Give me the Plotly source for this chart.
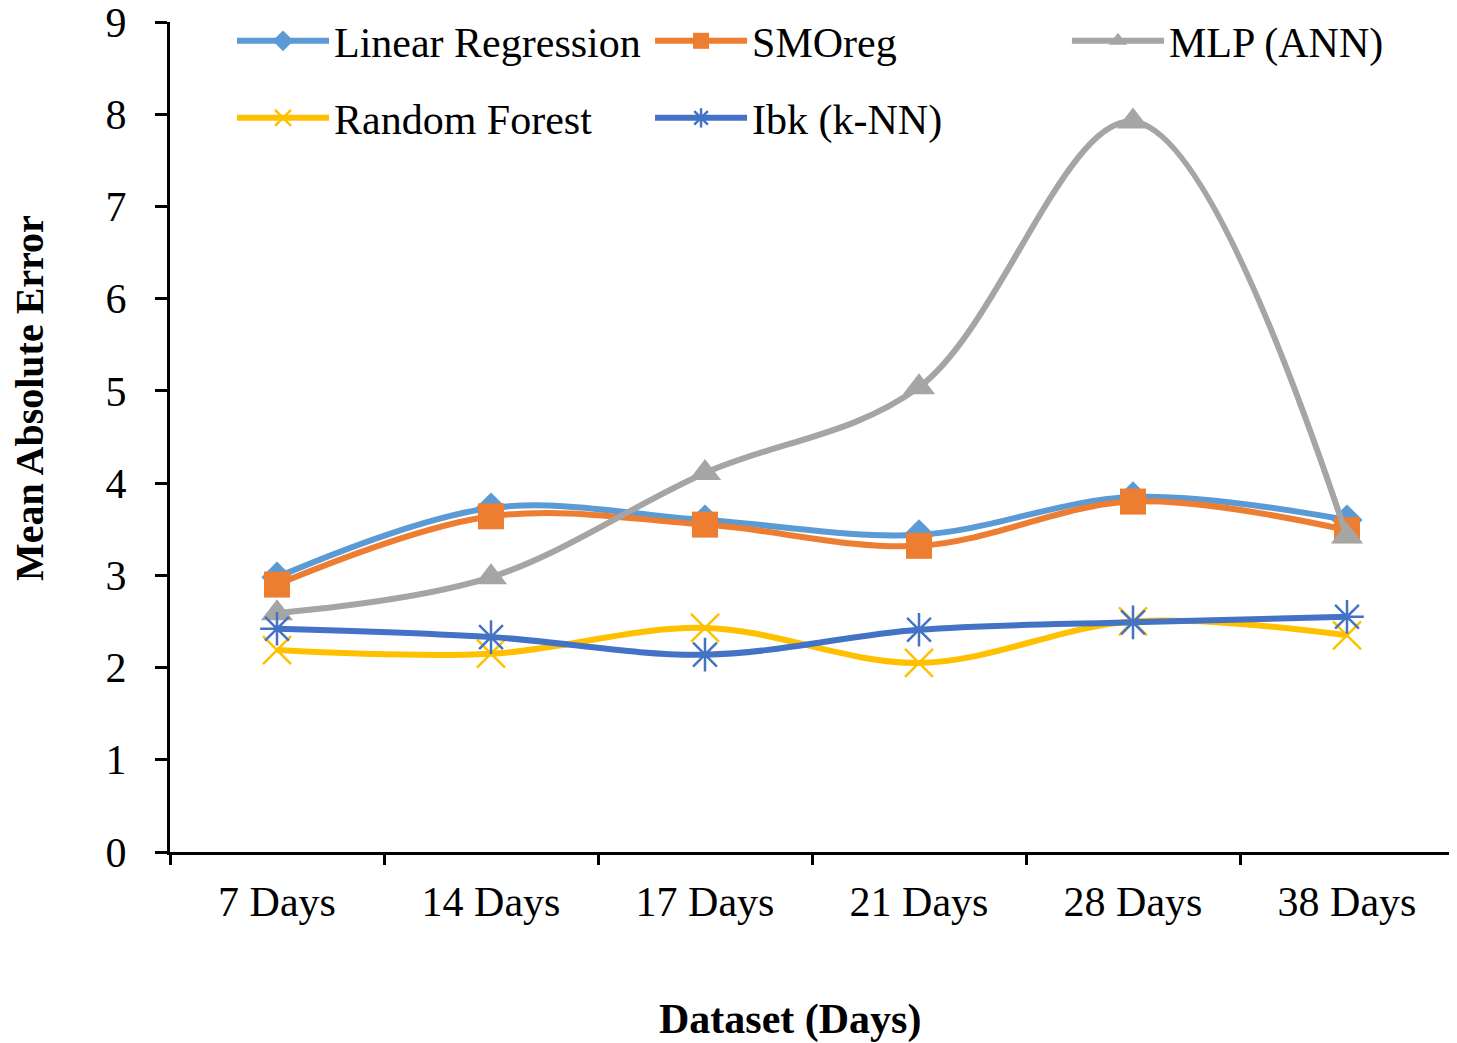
import plotly.graph_objects as go

categories = ["7 Days", "14 Days", "17 Days", "21 Days", "28 Days", "38 Days"]
linear_regression = [2.98, 3.73, 3.60, 3.44, 3.85, 3.60]
smoreg = [2.90, 3.64, 3.55, 3.32, 3.80, 3.49]
mlp_ann = [2.59, 2.98, 4.11, 5.04, 7.92, 3.42]
random_forest = [2.19, 2.15, 2.43, 2.05, 2.50, 2.35]
ibk_knn = [2.42, 2.33, 2.14, 2.41, 2.49, 2.55]
y_ticks = [0, 1, 2, 3, 4, 5, 6, 7, 8, 9]

# name, values, colour, symbol, size, marker line width, legend id, legend pos (container)
series = [
    ("Linear Regression", linear_regression, "#5B9BD5", "diamond", 24, 0, "legend", (0.1546, 0.9681)),
    ("SMOreg", smoreg, "#ED7D31", "square", 26, 0, "legend2", (0.4431, 0.9681)),
    ("MLP (ANN)", mlp_ann, "#A5A5A5", "triangle-up", 28, 0, "legend3", (0.7308, 0.9681)),
    ("Random Forest", random_forest, "#FFC000", "x-thin-open", 28, 2.5, "legend4", (0.1546, 0.8937)),
    ("Ibk (k-NN)", ibk_knn, "#4472C4", "asterisk-open", 28, 2.5, "legend5", (0.4431, 0.8937)),
]

font_family = "Liberation Serif"
fig = go.Figure()
legend_layouts = {}
for name, vals, color, sym, size, lw, lg, pos in series:
    fig.add_trace(go.Scatter(
        x=categories, y=vals, name=name, mode="lines+markers", legend=lg,
        line=dict(color=color, width=6, shape="spline", smoothing=1.0),
        marker=dict(symbol=sym, size=size, color=color,
                    line=dict(color=color, width=lw)),
    ))
    legend_layouts[lg] = dict(
        x=pos[0], y=pos[1], xref="container", yref="container",
        xanchor="left", yanchor="middle",
        orientation="h", itemwidth=92, bgcolor="rgba(0,0,0,0)",
        font=dict(size=42, family=font_family, color="black"),
    )

fig.update_layout(
    width=1449, height=1035,
    margin=dict(l=162, r=3, t=14, b=191, autoexpand=False),
    paper_bgcolor="white", plot_bgcolor="white",
    font=dict(family=font_family, size=42, color="black"),
    showlegend=True,
    xaxis=dict(type="category", range=[-0.5, 5.5], tickson="boundaries",
               showline=True, linecolor="black", linewidth=3,
               ticks="outside", ticklen=10, tickwidth=3, tickcolor="black",
               showgrid=False, zeroline=False, ticklabelstandoff=11,
               tickfont=dict(size=42, family=font_family)),
    yaxis=dict(range=[0, 9], tickvals=y_ticks, showline=True, linecolor="black",
               linewidth=3, ticks="outside", ticklen=12, tickwidth=3,
               tickcolor="black", showgrid=False, zeroline=False,
               ticklabelstandoff=20, ticklabeloverflow="allow",
               tickfont=dict(size=42, family=font_family)),
    annotations=[
        dict(text="<b>Mean Absolute Error</b>", xref="paper", yref="paper",
             x=-0.109, y=0.547, xanchor="center", yanchor="middle",
             textangle=-90, showarrow=False,
             font=dict(size=40, family=font_family)),
        dict(text="<b>Dataset (Days)</b>", xref="paper", yref="paper",
             x=0.483, y=-0.2024, xanchor="center", yanchor="middle",
             showarrow=False, font=dict(size=42, family=font_family)),
    ],
    **legend_layouts,
)

fig.write_html("out.html")
